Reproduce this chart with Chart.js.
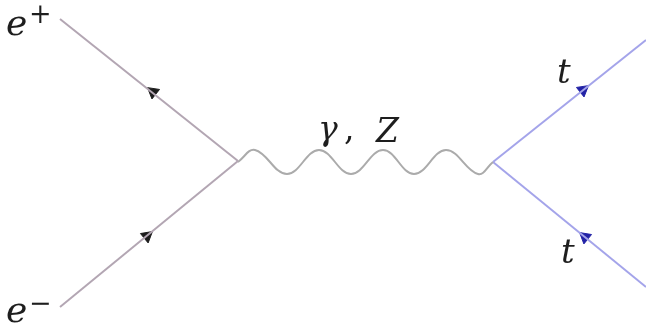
<!DOCTYPE html>
<html>
<head>
<meta charset="utf-8">
<script src="https://cdn.jsdelivr.net/npm/chart.js@4/dist/chart.umd.min.js"></script>
<style>
  html, body { margin: 0; padding: 0; background: #ffffff; }
  #wrap { width: 646px; height: 324px; }
</style>
</head>
<body>
<div id="wrap"><canvas id="diagram" width="646" height="324"></canvas></div>
<script>
// Feynman diagram e+ e- -> gamma/Z -> t tbar, drawn on a 646 x 324 unit plane.

// Incoming fermion lines: outer end, then annihilation vertex.
const positronLine = [{ x: 60, y: 19 }, { x: 238, y: 161 }];
const electronLine = [{ x: 60, y: 307 }, { x: 238, y: 161 }];

// Outgoing fermion lines: creation vertex, then outer end.
const topLine     = [{ x: 493, y: 162 }, { x: 646, y: 40 }];
const antiTopLine = [{ x: 493, y: 162 }, { x: 646, y: 287 }];

// Boson propagator: ends, crests and troughs of the wavy line.
const propagatorX = [238, 255, 287, 319, 351, 383, 414, 446, 478, 493];
const propagatorY = [162, 150, 174, 150, 174, 150, 174, 150, 174, 162];

// Arrow heads on the fermion lines (position; direction follows fermion flow).
const leptonArrows = [{ x: 153, y: 92 }, { x: 147, y: 236 }];
const quarkArrows  = [{ x: 583, y: 90 }, { x: 585, y: 237 }];

// Particle names and their charge superscripts.
const particleNames = ['e', 'e', 't', 't'];
const particleCharges = ['+', '\u2212', '', ''];
const bosonNames = ['\u03b3', ',', 'Z'];

// Where each label sits (left edge, baseline).
const particleAnchors = [{ x: 6, y: 35 }, { x: 6, y: 322 }, { x: 557, y: 83 }, { x: 561, y: 263 }];
const chargeAnchors   = [{ x: 29, y: 23 }, { x: 29, y: 312 }];
const bosonAnchors    = [{ x: 318, y: 140 }, { x: 344, y: 140 }, { x: 376, y: 142 }];

const propagator = propagatorX.map((x, i) => ({ x, y: propagatorY[i] }));

const SERIF = 'DejaVu Serif';

// Arrow directions, in degrees clockwise from "pointing up", measured in pixel space.
function flowAngle(chart, from, to) {
  const xs = chart.scales.x, ys = chart.scales.y;
  const dx = xs.getPixelForValue(to.x) - xs.getPixelForValue(from.x);
  const dy = ys.getPixelForValue(to.y) - ys.getPixelForValue(from.y);
  return Math.atan2(dy, dx) * 180 / Math.PI + 90;
}
// Electron flows into the vertex, positron arrow points back out; top flows out, antitop points back in.
const leptonFlow = [[positronLine[1], positronLine[0]], [electronLine[0], electronLine[1]]];
const quarkFlow  = [[topLine[0], topLine[1]], [antiTopLine[1], antiTopLine[0]]];

const labelPlugin = {
  id: 'particleLabels',
  afterDatasetsDraw(chart) {
    const { ctx } = chart;
    const xs = chart.scales.x, ys = chart.scales.y;
    const px = p => [xs.getPixelForValue(p.x), ys.getPixelForValue(p.y)];
    ctx.save();
    ctx.fillStyle = '#1e1e1e';
    ctx.textBaseline = 'alphabetic';
    ctx.textAlign = 'left';
    particleNames.forEach((name, i) => {
      ctx.font = 'italic ' + (name === 'e' ? 36 : 34) + 'px ' + SERIF;
      const [x, y] = px(particleAnchors[i]);
      ctx.fillText(name, x, y);
    });
    ctx.font = '27px ' + SERIF;
    particleCharges.forEach((c, i) => {
      if (!c) return;
      const [x, y] = px(chargeAnchors[i]);
      ctx.fillText(c, x, y);
    });
    bosonNames.forEach((name, i) => {
      ctx.font = (name === ',' ? '' : 'italic ') + '33px ' + SERIF;
      const [x, y] = px(bosonAnchors[i]);
      ctx.fillText(name, x, y);
    });
    ctx.restore();
  }
};

const lineStyle = (color) => ({
  showLine: true,
  borderColor: color,
  borderWidth: 2,
  pointRadius: 0,
  pointHoverRadius: 0,
  fill: false
});

const arrowStyle = (color, flow) => ({
  showLine: false,
  pointStyle: 'triangle',
  pointRadius: 7,
  pointHoverRadius: 7,
  backgroundColor: color,
  borderColor: color,
  borderWidth: 1,
  rotation: (c) => flowAngle(c.chart, flow[c.dataIndex][0], flow[c.dataIndex][1])
});

new Chart(document.getElementById('diagram'), {
  type: 'scatter',
  data: {
    datasets: [
      Object.assign({ label: 'e+', data: positronLine }, lineStyle('#b3a6b3')),
      Object.assign({ label: 'e-', data: electronLine }, lineStyle('#b3a6b3')),
      Object.assign({ label: 'gamma, Z', data: propagator, tension: 0.4 }, lineStyle('#ababab')),
      Object.assign({ label: 't', data: topLine }, lineStyle('#a4a4ea')),
      Object.assign({ label: 'tbar', data: antiTopLine }, lineStyle('#a4a4ea')),
      Object.assign({ label: 'lepton arrows', data: leptonArrows }, arrowStyle('#1c1c1c', leptonFlow)),
      Object.assign({ label: 'quark arrows', data: quarkArrows }, arrowStyle('#2222a6', quarkFlow))
    ]
  },
  options: {
    responsive: false,
    animation: false,
    devicePixelRatio: 1,
    layout: { padding: 0, autoPadding: false },
    events: [],
    plugins: { legend: { display: false }, tooltip: { enabled: false } },
    scales: {
      x: { type: 'linear', min: 0, max: 646, display: false },
      y: { type: 'linear', min: 0, max: 324, reverse: true, display: false }
    }
  },
  plugins: [labelPlugin]
});
</script>
</body>
</html>
